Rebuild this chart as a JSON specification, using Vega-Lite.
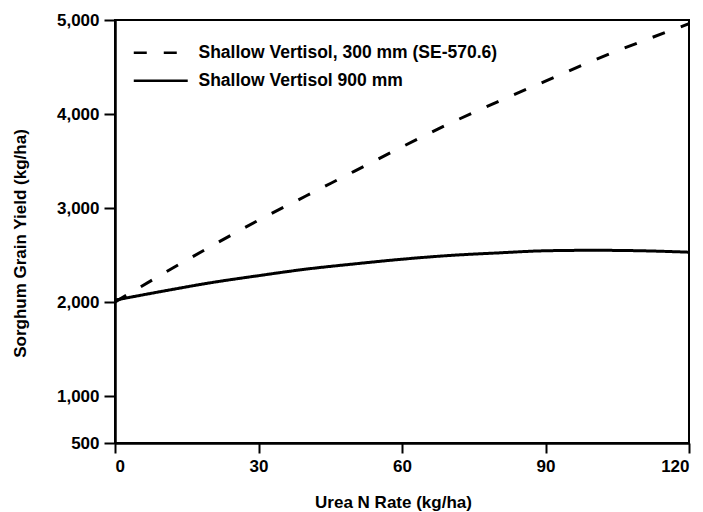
{
  "$schema": "https://vega.github.io/schema/vega-lite/v6.json",
  "width": 574,
  "height": 423,
  "autosize": {"type": "none"},
  "padding": {"left": 115, "top": 20, "right": 14, "bottom": 69},
  "background": "white",
  "config": {
    "view": {"stroke": "black", "strokeWidth": 2},
    "font": "Liberation Sans",
    "axis": {
      "grid": false,
      "domainColor": "black",
      "domainWidth": 2.5,
      "tickColor": "black",
      "tickWidth": 2,
      "labelColor": "black",
      "labelFont": "Liberation Sans",
      "labelFontWeight": "bold",
      "labelFontSize": 17,
      "titleColor": "black",
      "titleFont": "Liberation Sans",
      "titleFontWeight": "bold",
      "titleFontSize": 17
    }
  },
  "data": {
    "values": [
      {"rate": 0, "yield": 2000, "series": "Shallow Vertisol, 300 mm (SE-570.6)"},
      {"rate": 10, "yield": 2300, "series": "Shallow Vertisol, 300 mm (SE-570.6)"},
      {"rate": 20, "yield": 2590, "series": "Shallow Vertisol, 300 mm (SE-570.6)"},
      {"rate": 30, "yield": 2870, "series": "Shallow Vertisol, 300 mm (SE-570.6)"},
      {"rate": 40, "yield": 3130, "series": "Shallow Vertisol, 300 mm (SE-570.6)"},
      {"rate": 50, "yield": 3390, "series": "Shallow Vertisol, 300 mm (SE-570.6)"},
      {"rate": 60, "yield": 3650, "series": "Shallow Vertisol, 300 mm (SE-570.6)"},
      {"rate": 70, "yield": 3900, "series": "Shallow Vertisol, 300 mm (SE-570.6)"},
      {"rate": 80, "yield": 4130, "series": "Shallow Vertisol, 300 mm (SE-570.6)"},
      {"rate": 90, "yield": 4350, "series": "Shallow Vertisol, 300 mm (SE-570.6)"},
      {"rate": 100, "yield": 4570, "series": "Shallow Vertisol, 300 mm (SE-570.6)"},
      {"rate": 110, "yield": 4770, "series": "Shallow Vertisol, 300 mm (SE-570.6)"},
      {"rate": 120, "yield": 4960, "series": "Shallow Vertisol, 300 mm (SE-570.6)"},
      {"rate": 0, "yield": 2020, "series": "Shallow Vertisol 900 mm"},
      {"rate": 10, "yield": 2115, "series": "Shallow Vertisol 900 mm"},
      {"rate": 20, "yield": 2205, "series": "Shallow Vertisol 900 mm"},
      {"rate": 30, "yield": 2280, "series": "Shallow Vertisol 900 mm"},
      {"rate": 40, "yield": 2350, "series": "Shallow Vertisol 900 mm"},
      {"rate": 50, "yield": 2405, "series": "Shallow Vertisol 900 mm"},
      {"rate": 60, "yield": 2455, "series": "Shallow Vertisol 900 mm"},
      {"rate": 70, "yield": 2495, "series": "Shallow Vertisol 900 mm"},
      {"rate": 80, "yield": 2522, "series": "Shallow Vertisol 900 mm"},
      {"rate": 90, "yield": 2545, "series": "Shallow Vertisol 900 mm"},
      {"rate": 100, "yield": 2550, "series": "Shallow Vertisol 900 mm"},
      {"rate": 110, "yield": 2545, "series": "Shallow Vertisol 900 mm"},
      {"rate": 120, "yield": 2530, "series": "Shallow Vertisol 900 mm"}
    ]
  },
  "mark": {"type": "line", "interpolate": "monotone", "strokeWidth": 3, "color": "black", "clip": true},
  "encoding": {
    "x": {
      "field": "rate",
      "type": "quantitative",
      "scale": {"domain": [0, 120], "nice": false},
      "axis": {
        "values": [0, 30, 60, 90, 120],
        "format": "d",
        "tickSize": 10,
        "labelPadding": 5,
        "title": "Urea N Rate (kg/ha)",
        "titleX": 278,
        "titleY": 64,
        "titleBaseline": "alphabetic",
        "titleAlign": "center"
      }
    },
    "y": {
      "field": "yield",
      "type": "quantitative",
      "scale": {"domain": [500, 5000], "nice": false, "zero": false},
      "axis": {
        "values": [500, 1000, 2000, 3000, 4000, 5000],
        "format": ",d",
        "tickSize": 11,
        "labelPadding": 5,
        "title": "Sorghum Grain Yield (kg/ha)",
        "titleX": -90,
        "titleY": 223,
        "titleAngle": -90,
        "titleBaseline": "alphabetic",
        "titleAlign": "center"
      }
    },
    "strokeDash": {
      "field": "series",
      "type": "nominal",
      "scale": {
        "domain": ["Shallow Vertisol, 300 mm (SE-570.6)", "Shallow Vertisol 900 mm"],
        "range": [[13, 17], [1, 0]]
      },
      "legend": {
        "orient": "none",
        "legendX": 37,
        "legendY": 24,
        "title": null,
        "padding": 0,
        "symbolType": "M-4,0H4",
        "symbolSize": 182,
        "symbolStrokeWidth": 2.5,
        "symbolStrokeColor": "black",
        "symbolDash": [12, 8],
        "labelFont": "Liberation Sans",
        "labelFontSize": 17.5,
        "labelFontWeight": "bold",
        "labelColor": "black",
        "labelOffset": 29,
        "labelLimit": 500,
        "rowPadding": 9
      }
    }
  }
}
